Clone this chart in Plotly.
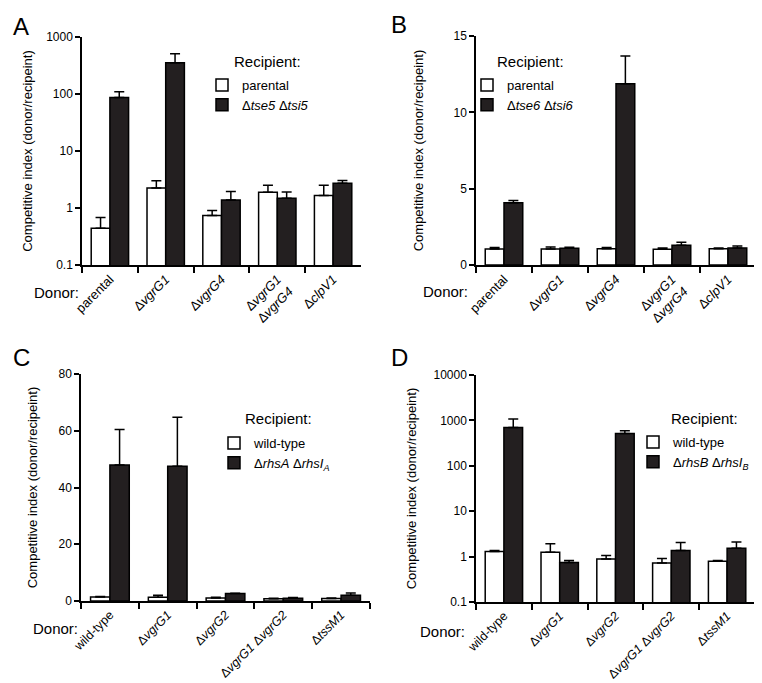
import plotly.graph_objects as go

W, H = 762, 683
FONT = "Liberation Sans, Arial, Helvetica, sans-serif"

# ---------------- data ----------------
cats_ab = ["parental", "Δ<i>vgrG1</i>", "Δ<i>vgrG4</i>", "Δ<i>vgrG1</i><br>Δ<i>vgrG4</i>", "Δ<i>clpV1</i>"]
cats_cd = ["wild-type", "Δ<i>vgrG1</i>", "Δ<i>vgrG2</i>", "Δ<i>vgrG1</i> Δ<i>vgrG2</i>", "Δ<i>tssM1</i>"]

a_parental = [0.44, 2.25, 0.74, 1.89, 1.65]
a_parental_err = [0.24, 0.75, 0.16, 0.62, 0.86]
a_mutant = [87, 355, 1.38, 1.48, 2.72]
a_mutant_err = [23, 153, 0.56, 0.43, 0.31]

b_parental = [1.05, 1.05, 1.07, 1.03, 1.07]
b_parental_err = [0.09, 0.13, 0.07, 0.09, 0.05]
b_mutant = [4.07, 1.09, 11.87, 1.29, 1.12]
b_mutant_err = [0.16, 0.07, 1.82, 0.20, 0.13]

c_wt = [1.4, 1.3, 1.05, 0.8, 0.85]
c_wt_err = [0.2, 0.7, 0.25, 0.15, 0.25]
c_mutant = [47.9, 47.5, 2.6, 0.95, 2.0]
c_mutant_err = [12.5, 17.3, 0.1, 0.25, 0.8]

d_wt = [1.30, 1.25, 0.88, 0.72, 0.79]
d_wt_err = [0.06, 0.66, 0.18, 0.19, 0.03]
d_mutant = [697, 0.74, 515, 1.36, 1.53]
d_mutant_err = [383, 0.08, 74, 0.68, 0.58]

log_ticks_a = [0.1, 1, 10, 100, 1000]
log_ticks_d = [0.1, 1, 10, 100, 1000, 10000]
lin_ticks_b = [0, 5, 10, 15]
lin_ticks_c = [0, 20, 40, 60, 80]

# ---------------- figure ----------------
fig = go.Figure()

DARK = "#231f20"

def add_pair(xref, yref, leg, cats, v1, e1, n1, v2, e2, n2):
    for vals, errs, name, fill in ((v1, e1, n1, "white"), (v2, e2, n2, DARK)):
        fig.add_trace(go.Bar(
            x=cats, y=vals, name=name, xaxis=xref, yaxis=yref, legend=leg,
            marker=dict(color=fill, line=dict(color="black", width=1.5)),
            error_y=dict(type="data", symmetric=False, array=errs,
                         arrayminus=[0] * len(errs), color="black",
                         thickness=1.5, width=5),
        ))

add_pair("x", "y", "legend", cats_ab, a_parental, a_parental_err, "parental",
         a_mutant, a_mutant_err, "Δ<i>tse5</i> Δ<i>tsi5</i>")
add_pair("x2", "y2", "legend2", cats_ab, b_parental, b_parental_err, "parental",
         b_mutant, b_mutant_err, "Δ<i>tse6</i> Δ<i>tsi6</i>")
add_pair("x3", "y3", "legend3", cats_cd, c_wt, c_wt_err, "wild-type",
         c_mutant, c_mutant_err, "Δ<i>rhsA</i> Δ<i>rhsI<sub>A</sub></i>")
add_pair("x4", "y4", "legend4", cats_cd, d_wt, d_wt_err, "wild-type",
         d_mutant, d_mutant_err, "Δ<i>rhsB</i> Δ<i>rhsI<sub>B</sub></i>")

def px_x(v):
    return v / W

def px_y(v):
    return 1 - v / H

def xaxis(x0, x1, anchor, fsize=13):
    return dict(domain=[px_x(x0), px_x(x1)], anchor=anchor, type="category",
                automargin=False,
                showline=True, linecolor="black", linewidth=1.5,
                ticks="outside", tickson="boundaries", ticklen=6, tickwidth=1.5,
                tickcolor="black", tickangle=-45, showgrid=False, zeroline=False,
                tickfont=dict(size=fsize, color="black", family=FONT), fixedrange=True)

ytitle = "Competitive index (donor/recipeint)"

def yaxis(y_top, y_bot, anchor, standoff, **kw):
    d = dict(domain=[px_y(y_bot), px_y(y_top)], anchor=anchor, automargin=False,
             showline=True, linecolor="black", linewidth=1.5,
             ticks="outside", ticklen=5, tickwidth=1.5, tickcolor="black",
             showgrid=False, zeroline=False,
             tickfont=dict(size=12, color="black", family=FONT),
             title=dict(text=ytitle, font=dict(size=13, color="black", family=FONT),
                        standoff=standoff),
             fixedrange=True)
    d.update(kw)
    return d

layout = dict(
    width=W, height=H, margin=dict(l=0, r=0, t=0, b=0, autoexpand=False),
    paper_bgcolor="white", plot_bgcolor="white",
    font=dict(family=FONT, color="black"),
    barmode="group", bargap=0.33, bargroupgap=0,
    xaxis=xaxis(74, 353, "y"),
    yaxis=yaxis(29, 257, "x", 11, type="log", range=[-1, 3],
                tickvals=log_ticks_a, ticktext=[str(t) for t in log_ticks_a]),
    xaxis2=xaxis(468, 748, "y2"),
    yaxis2=yaxis(28, 257, "x2", 27, range=[0, 15], tickvals=lin_ticks_b),
    xaxis3=xaxis(73, 362, "y3", 12.5),
    yaxis3=yaxis(366, 593, "x3", 18, range=[0, 80], tickvals=lin_ticks_c),
    xaxis4=xaxis(468, 747, "y4", 12.5),
    yaxis4=yaxis(367, 594, "x4", 14, type="log", range=[-1, 4],
                 tickvals=log_ticks_d, ticktext=[str(t) for t in log_ticks_d]),
)

def legend(xp, yp):
    return dict(x=px_x(xp), y=px_y(yp), xanchor="left", yanchor="top",
                bgcolor="rgba(0,0,0,0)", borderwidth=0,
                font=dict(size=13, color="black", family=FONT),
                traceorder="normal", itemwidth=30)

layout["legend"] = legend(194, 62)
layout["legend2"] = legend(459, 62)
layout["legend3"] = legend(206, 420)
layout["legend4"] = legend(625, 419)
layout["showlegend"] = True

ann = []
for letter, xp, yp in (("A", 13, 18), ("B", 391, 16), ("C", 13, 349), ("D", 391, 349)):
    ann.append(dict(text=letter, x=px_x(xp), y=px_y(yp), xref="paper", yref="paper",
                    showarrow=False, xanchor="center", yanchor="middle",
                    font=dict(size=24, color="black", family=FONT)))
for xp, yp in ((224, 53), (487, 54), (235, 410), (661, 410)):
    ann.append(dict(text="Recipient:", x=px_x(xp), y=px_y(yp), xref="paper", yref="paper",
                    showarrow=False, xanchor="left", yanchor="middle",
                    font=dict(size=15, color="black", family=FONT)))
for xp, yp in ((24, 284), (413, 283), (23, 620), (410, 623)):
    ann.append(dict(text="Donor:", x=px_x(xp), y=px_y(yp), xref="paper", yref="paper",
                    showarrow=False, xanchor="left", yanchor="middle",
                    font=dict(size=15, color="black", family=FONT)))
layout["annotations"] = ann

fig.update_layout(**layout)
fig.write_html("out.html")
